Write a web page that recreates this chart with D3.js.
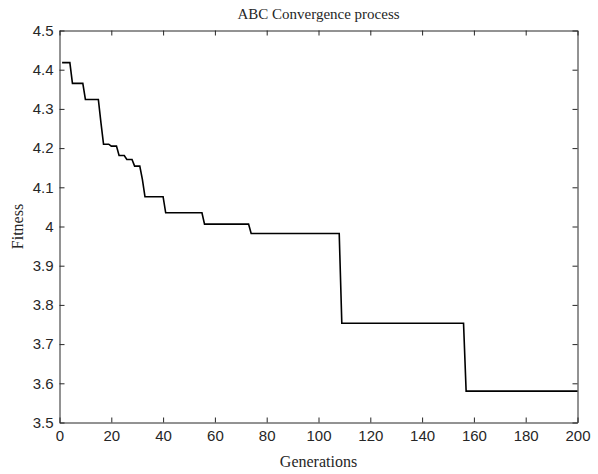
<!DOCTYPE html>
<html>
<head>
<meta charset="utf-8">
<script src="https://cdn.jsdelivr.net/npm/d3@7"></script>
<style>
  body { margin: 0; background: #fff; }
  svg { display: block; }
  .tick text { font-family: "Liberation Sans", Arial, sans-serif; font-size: 15px; fill: #262626; }
  .serif { font-family: "Liberation Serif", "Times New Roman", serif; fill: #262626; }
</style>
</head>
<body>
<svg id="chart" width="598" height="474"></svg>
<script>
// each run: first generation at which the best fitness takes this level
const runStart = [1, 5, 10, 16, 17, 20, 23, 26, 29, 32, 33, 41, 56, 74, 109, 157];
const runFitness = [4.418, 4.365, 4.324, 4.265, 4.21, 4.205, 4.181, 4.171, 4.154, 4.12, 4.076, 4.035, 4.006, 3.982, 3.753, 3.58];
const lastGen = 200;
const xTicks = [0, 20, 40, 60, 80, 100, 120, 140, 160, 180, 200];
const yTicks = [3.5, 3.6, 3.7, 3.8, 3.9, 4, 4.1, 4.2, 4.3, 4.4, 4.5];

// one point per generation, holding the level of its run
const series = [];
runStart.forEach((g0, i) => {
  const g1 = i + 1 < runStart.length ? runStart[i + 1] - 1 : lastGen;
  for (let g = g0; g <= g1; g++) series.push({ gen: g, fit: runFitness[i] });
});

const plotLeft = 59.5, plotRight = 577.5, plotTop = 30.5, plotBottom = 422.5;
const svg = d3.select("#chart");

const x = d3.scaleLinear().domain([0, 200]).range([plotLeft, plotRight]);
const y = d3.scaleLinear().domain([3.5, 4.5]).range([plotBottom, plotTop]);

function styleAxis(g) {
  g.selectAll("path, line").attr("stroke", "#262626").attr("stroke-width", 1);
}

svg.append("g")
  .attr("transform", `translate(0,${plotBottom})`)
  .call(d3.axisBottom(x).tickValues(xTicks).tickSizeInner(-5).tickSizeOuter(0).tickPadding(8))
  .call(styleAxis);

svg.append("g")
  .attr("transform", `translate(0,${plotTop})`)
  .call(d3.axisTop(x).tickValues(xTicks).tickSizeInner(-5).tickSizeOuter(0).tickFormat(""))
  .call(styleAxis);

svg.append("g")
  .attr("transform", `translate(${plotLeft},0)`)
  .call(d3.axisLeft(y).tickValues(yTicks).tickSizeInner(-5).tickSizeOuter(0).tickPadding(6)
    .tickFormat(d => String(+d.toFixed(1))))
  .call(styleAxis);

svg.append("g")
  .attr("transform", `translate(${plotRight},0)`)
  .call(d3.axisRight(y).tickValues(yTicks).tickSizeInner(-5).tickSizeOuter(0).tickFormat(""))
  .call(styleAxis);

const line = d3.line().x(d => x(d.gen)).y(d => y(d.fit));

svg.append("path")
  .datum(series)
  .attr("fill", "none")
  .attr("stroke", "#000")
  .attr("stroke-width", 1.6)
  .attr("d", line);

svg.append("text")
  .attr("class", "serif")
  .attr("x", (plotLeft + plotRight) / 2)
  .attr("y", 19)
  .attr("text-anchor", "middle")
  .attr("font-size", 15)
  .text("ABC Convergence process");

svg.append("text")
  .attr("class", "serif")
  .attr("x", (plotLeft + plotRight) / 2)
  .attr("y", 467)
  .attr("text-anchor", "middle")
  .attr("font-size", 16)
  .text("Generations");

svg.append("text")
  .attr("class", "serif")
  .attr("transform", `translate(23,${(plotTop + plotBottom) / 2}) rotate(-90)`)
  .attr("text-anchor", "middle")
  .attr("font-size", 16)
  .text("Fitness");
</script>
</body>
</html>
